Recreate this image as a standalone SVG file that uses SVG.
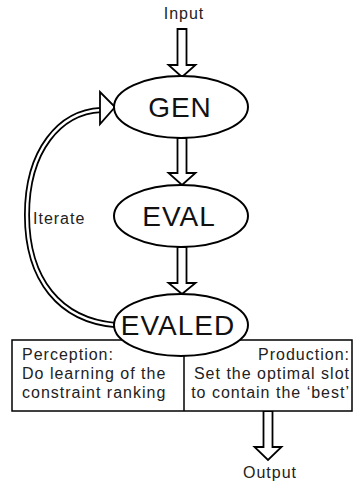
<svg xmlns="http://www.w3.org/2000/svg" width="354" height="482" viewBox="0 0 354 482">
<style>
.t{font-family:"Liberation Sans",Arial,sans-serif;font-size:16px;letter-spacing:1px;fill:#222}
.big{font-family:"Liberation Sans",Arial,sans-serif;font-size:28px;letter-spacing:1px;fill:#111;text-anchor:middle}
.ell{fill:#fff;stroke:#000;stroke-width:2}
.blk{fill:#fff;stroke:#000;stroke-width:1.8;stroke-linejoin:miter}
.box{fill:#fff;stroke:#000;stroke-width:1.5}
</style>
<rect width="354" height="482" fill="#fff"/>
<g id="connectors">
  <polygon class="blk" points="177.5,29 186.5,29 186.5,65 195.5,65 182,77 168.5,65 177.5,65"/>
  <polygon class="blk" points="177.5,138 186.5,138 186.5,173 195.5,173 182,185 168.5,173 177.5,173"/>
  <polygon class="blk" points="177.5,247 186.5,247 186.5,283 195.5,283 182,294 168.5,283 177.5,283"/>
  <polygon class="blk" points="263.5,411 272.5,411 272.5,447 281.5,447 268,460 254.5,447 263.5,447"/>
  <path d="M101 110 C60 112 27 150 27 215 C27 280 60 320 115 325" fill="none" stroke="#000" stroke-width="6"/>
  <path d="M101 110 C60 112 27 150 27 215 C27 280 60 320 115 325" fill="none" stroke="#fff" stroke-width="2.5"/>
  <polygon class="blk" points="100,92 115,107 100,124"/>
</g>
<g id="input"><text class="t" x="184" y="19" text-anchor="middle">Input</text></g>
<g id="iterate-label"><text class="t" x="33" y="224">Iterate</text></g>
<g id="box">
  <rect class="box" x="12" y="340" width="340" height="71"/>
  <line x1="184" y1="340" x2="184" y2="411" stroke="#000" stroke-width="1.5"/>
  <text class="t" x="22" y="360">Perception:</text>
  <text class="t" x="22" y="379">Do learning of the</text>
  <text class="t" x="22" y="398">constraint ranking</text>
  <text class="t" x="350" y="360" text-anchor="end">Production:</text>
  <text class="t" x="350" y="379" text-anchor="end">Set the optimal slot</text>
  <text class="t" x="350" y="398" text-anchor="end">to contain the ‘best’</text>
</g>
<g id="gen">
  <ellipse class="ell" cx="181" cy="107" rx="67" ry="31"/>
  <text class="big" x="180" y="117">GEN</text>
</g>
<g id="eval">
  <ellipse class="ell" cx="181" cy="216" rx="67" ry="31"/>
  <text class="big" x="179" y="226">EVAL</text>
</g>
<g id="evaled">
  <ellipse class="ell" cx="181" cy="325" rx="67" ry="31"/>
  <text class="big" x="178" y="335">EVALED</text>
</g>
<g id="output"><text class="t" x="270" y="478" text-anchor="middle">Output</text></g>
</svg>
